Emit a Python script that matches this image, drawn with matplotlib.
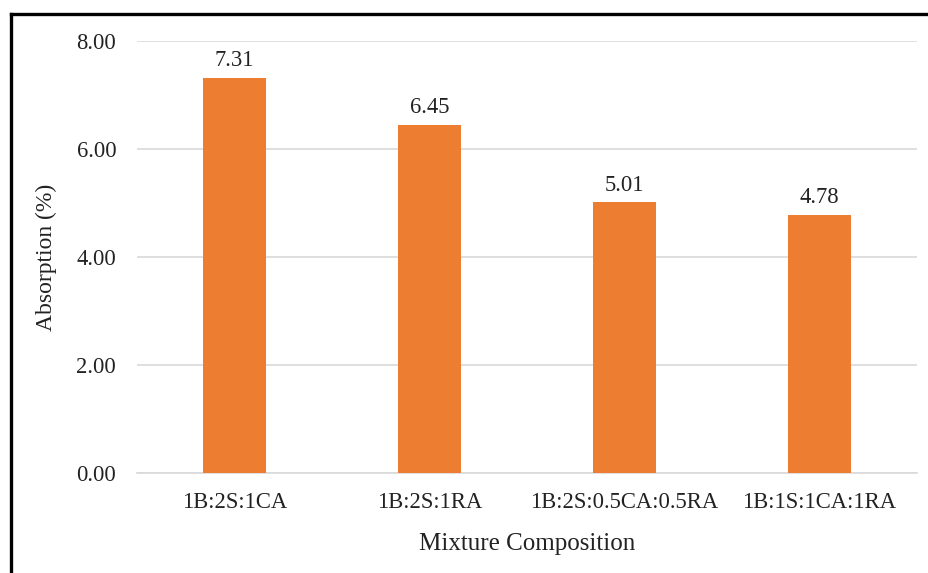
import matplotlib

matplotlib.use("Agg")
import matplotlib.pyplot as plt
from matplotlib.lines import Line2D

mixes = ["1B:2S:1CA", "1B:2S:1RA", "1B:2S:0.5CA:0.5RA", "1B:1S:1CA:1RA"]
absorption = [7.31, 6.45, 5.01, 4.78]
yticks = [0, 2, 4, 6, 8]

plt.rcParams["font.family"] = ["Liberation Serif", "DejaVu Serif"]

fig = plt.figure(figsize=(9.29, 5.73), dpi=100)
ax = fig.add_axes([0.1475, 0.1745, 0.8395, 0.7539])

x = range(len(mixes))
bars = ax.bar(x, absorption, width=0.32, color="#ED7D31", zorder=3)
for rect, v in zip(bars, absorption):
    ax.annotate(f"{v:.2f}", (rect.get_x() + rect.get_width() / 2, v),
                xytext=(0, 5), textcoords="offset points",
                ha="center", va="bottom", fontsize=16.3, color="#222222")

ax.set_xlim(-0.5, len(mixes) - 0.5)
ax.set_ylim(0, 8)
ax.set_yticks(yticks)
ax.set_yticklabels([f"{t:.2f}" for t in yticks])
ax.set_xticks(list(x))
ax.set_xticklabels(mixes)
ax.tick_params(axis="both", length=0, labelsize=16.3, colors="#222222")
ax.tick_params(axis="y", pad=15)
ax.tick_params(axis="x", pad=14)
ax.grid(axis="y", color="#D9D9D9", linewidth=1.2, zorder=0)
for s in ["top", "right", "left"]:
    ax.spines[s].set_visible(False)
ax.spines["bottom"].set_color("#D9D9D9")
ax.spines["bottom"].set_linewidth(1.2)

ax.set_ylabel("Absorption (%)", fontsize=17, color="#222222", labelpad=14)
ax.set_xlabel("Mixture Composition", fontsize=18, color="#222222", labelpad=14)

# frame lines on the left and top edges
fig.add_artist(Line2D([11 / 929, 11 / 929], [0, 1 - 14 / 573],
                      transform=fig.transFigure, color="black", linewidth=2.4))
fig.add_artist(Line2D([11 / 929, 1], [1 - 14 / 573, 1 - 14 / 573],
                      transform=fig.transFigure, color="black", linewidth=2.4))

fig.savefig("out.png", dpi=100)
